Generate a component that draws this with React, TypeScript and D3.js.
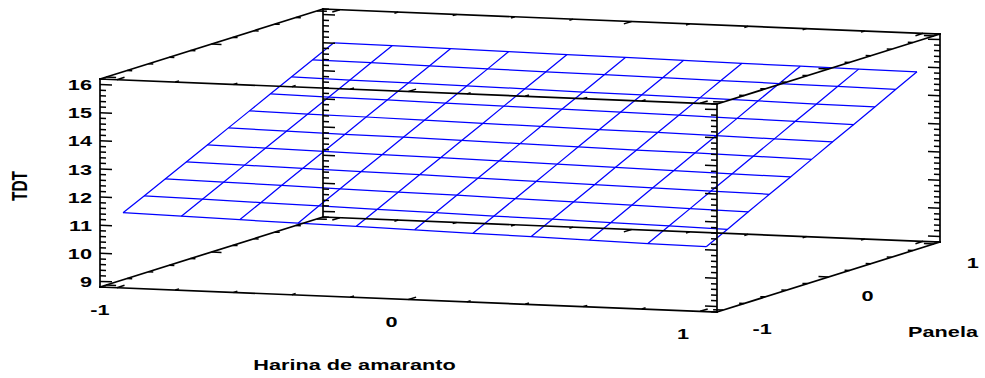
import React from "react";
import * as d3 from "d3";

// Factor levels (coded) for the response-surface grid
const harinaLevels = [-1, -0.8, -0.6, -0.4, -0.2, 0, 0.2, 0.4, 0.6, 0.8, 1];
const panelaLevels = [-1, -0.8, -0.6, -0.4, -0.2, 0, 0.2, 0.4, 0.6, 0.8, 1];

// TDT estimated on the grid: one row per Panela level, values along Harina de amaranto
const tdtPanelaM10 = [11.4, 11.36, 11.32, 11.28, 11.25, 11.21, 11.17, 11.14, 11.1, 11.06, 11.03];
const tdtPanelaM08 = [11.76, 11.73, 11.69, 11.66, 11.62, 11.59, 11.55, 11.52, 11.48, 11.45, 11.41];
const tdtPanelaM06 = [12.13, 12.1, 12.07, 12.03, 12.0, 11.97, 11.93, 11.9, 11.87, 11.83, 11.8];
const tdtPanelaM04 = [12.5, 12.47, 12.44, 12.41, 12.38, 12.34, 12.31, 12.28, 12.25, 12.22, 12.19];
const tdtPanelaM02 = [12.87, 12.84, 12.81, 12.78, 12.75, 12.72, 12.69, 12.66, 12.63, 12.6, 12.57];
const tdtPanela00 = [13.24, 13.21, 13.18, 13.16, 13.13, 13.1, 13.07, 13.04, 13.02, 12.99, 12.96];
const tdtPanelaP02 = [13.61, 13.58, 13.56, 13.53, 13.5, 13.48, 13.45, 13.43, 13.4, 13.37, 13.35];
const tdtPanelaP04 = [13.98, 13.95, 13.93, 13.9, 13.88, 13.86, 13.83, 13.81, 13.78, 13.76, 13.73];
const tdtPanelaP06 = [14.35, 14.32, 14.3, 14.28, 14.26, 14.23, 14.21, 14.19, 14.17, 14.14, 14.12];
const tdtPanelaP08 = [14.72, 14.7, 14.67, 14.65, 14.63, 14.61, 14.59, 14.57, 14.55, 14.53, 14.51];
const tdtPanelaP10 = [15.09, 15.07, 15.05, 15.03, 15.01, 14.99, 14.97, 14.95, 14.93, 14.91, 14.9];
const tdtRows = [
  tdtPanelaM10, tdtPanelaM08, tdtPanelaM06, tdtPanelaM04, tdtPanelaM02, tdtPanela00,
  tdtPanelaP02, tdtPanelaP04, tdtPanelaP06, tdtPanelaP08, tdtPanelaP10,
];

// Axes
const harinaTicks = [-1, 0, 1];
const panelaTicks = [-1, 0, 1];
const tdtTicks = [9, 10, 11, 12, 13, 14, 15, 16];
const harinaTitle = "Harina de amaranto";
const panelaTitle = "Panela";
const tdtTitle = "TDT";

const W = 985;
const H = 378;
const FONT = "'Liberation Sans', Arial, Helvetica, sans-serif";
const FS = 15.5;
const STRETCH = 1.4;

// 3D box extents
const xDom: [number, number] = [-1.058, 1.058];
const yDom: [number, number] = [-1.058, 1.058];
const zDom: [number, number] = [8.8, 16.2];
const sx = d3.scaleLinear().domain(xDom).range([0, 1]);
const sy = d3.scaleLinear().domain(yDom).range([0, 1]);
const sz = d3.scaleLinear().domain(zDom).range([0, 1]);
const O = [100, 287];
const EX = [617, 25];
const EY = [223, -70];
const EZ = [0, -208];

function P(x: number, y: number, z: number): [number, number] {
  const a = sx(x), b = sy(y), c = sz(z);
  return [O[0] + a * EX[0] + b * EY[0] + c * EZ[0], O[1] + a * EX[1] + b * EY[1] + c * EZ[1]];
}

const line = d3.line<[number, number]>().x((d) => d[0]).y((d) => d[1]);

function steps(a: number, b: number, s: number) {
  return d3.range(Math.round(a / s), Math.round(b / s) + 1).map((k) => +(k * s).toFixed(4));
}

export default function App() {
  const [x0, x1] = xDom;
  const [y0, y1] = yDom;
  const [z0, z1] = zDom;

  const boxEdges: [number, number, number][][] = [
    [[x0, y0, z0], [x0, y0, z1]],
    [[x1, y0, z0], [x1, y0, z1]],
    [[x0, y1, z0], [x0, y1, z1]],
    [[x1, y1, z0], [x1, y1, z1]],
    [[x0, y0, z0], [x1, y0, z0]],
    [[x0, y0, z1], [x1, y0, z1]],
    [[x0, y1, z0], [x1, y1, z0]],
    [[x0, y1, z1], [x1, y1, z1]],
    [[x0, y0, z0], [x0, y1, z0]],
    [[x0, y0, z1], [x0, y1, z1]],
    [[x1, y0, z0], [x1, y1, z0]],
    [[x1, y0, z1], [x1, y1, z1]],
  ];

  const ticks: string[] = [];
  const pxPerX = EX[0] / (x1 - x0);
  const pxPerY = Math.hypot(EY[0], EY[1]) / (y1 - y0);
  const zMinor = steps(8.8, 16.2, 0.2);
  [[x0, y0, 1], [x1, y0, -1], [x0, y1, 1], [x1, y1, -1]].forEach(([xe, ye, dir]) => {
    zMinor.forEach((z) => {
      const major = Math.abs(z - Math.round(z)) < 1e-6;
      const len = (major ? 12 : 6) / pxPerX;
      const a = P(xe, ye, z), b = P(xe + dir * len, ye, z);
      ticks.push(line([a, b]) as string);
    });
  });
  const xMinor = steps(-1, 1, 0.2);
  [[y0, z0, 1], [y0, z1, 1], [y1, z0, -1], [y1, z1, -1]].forEach(([ye, ze, dir]) => {
    xMinor.forEach((x) => {
      const major = Math.abs(x - Math.round(x)) < 1e-6;
      const len = (major ? 8 : 4) / pxPerY;
      const a = P(x, ye, ze), b = P(x, ye + dir * len, ze);
      ticks.push(line([a, b]) as string);
    });
  });
  const yMinor = steps(-1, 1, 0.2);
  [[x0, z0, 1], [x0, z1, 1], [x1, z0, -1], [x1, z1, -1]].forEach(([xe, ze, dir]) => {
    yMinor.forEach((y) => {
      const major = Math.abs(y - Math.round(y)) < 1e-6;
      const len = (major ? 10 : 5) / pxPerX;
      const a = P(xe, y, ze), b = P(xe + dir * len, y, ze);
      ticks.push(line([a, b]) as string);
    });
  });

  const rowPaths = tdtRows.map((row, j) =>
    line(row.map((z, i) => P(harinaLevels[i], panelaLevels[j], z))) as string
  );
  const colPaths = harinaLevels.map((hx, i) =>
    line(tdtRows.map((row, j) => P(hx, panelaLevels[j], row[i]))) as string
  );

  const txt = (key: string, x: number, y: number, s: string, anchor: string, rotate = 0) => (
    <text
      key={key}
      transform={`translate(${x},${y}) scale(${STRETCH},1)${rotate ? ` rotate(${rotate})` : ""}`}
      textAnchor={anchor}
      fontFamily={FONT}
      fontWeight="bold"
      fontSize={FS}
      fill="#000"
    >
      {s}
    </text>
  );

  const capHalf = 5.6;

  return (
    <svg
      width={W}
      height={H}
      viewBox={`0 0 ${W} ${H}`}
      style={{ position: "absolute", left: 0, top: 0, background: "#fff" }}
    >
      <rect x={0} y={0} width={W} height={H} fill="#fff" />
      <g stroke="#0000ff" strokeWidth={1.25} fill="none">
        {rowPaths.map((d, k) => <path key={"r" + k} d={d} />)}
        {colPaths.map((d, k) => <path key={"c" + k} d={d} />)}
      </g>
      <g stroke="#000" strokeWidth={1.7} fill="none" strokeLinecap="square">
        {boxEdges.map((e, k) => (
          <path key={"e" + k} d={line(e.map(([a, b, c]) => P(a, b, c))) as string} />
        ))}
      </g>
      <g stroke="#000" strokeWidth={1.5} fill="none">
        {ticks.map((d, k) => <path key={"t" + k} d={d} />)}
      </g>
      {tdtTicks.map((z) => {
        const p = P(x0, y0, z);
        return txt("zl" + z, p[0] - 8, p[1] + capHalf, String(z), "end");
      })}
      {harinaTicks.map((x) => {
        const p = P(x, y0, z0);
        return txt("xl" + x, p[0] - 17, p[1] + 22 + capHalf, String(x), "middle");
      })}
      {panelaTicks.map((y) => {
        const p = P(x1, y, z0);
        return txt("yl" + y, p[0] + 39, p[1] + 18 + capHalf, String(y), "middle");
      })}
      {txt("tx", 354.5, 370, harinaTitle, "middle")}
      {txt("ty", 943, 337, panelaTitle, "middle")}
      {txt("tz", 27, 186, tdtTitle, "middle", -90)}
    </svg>
  );
}
